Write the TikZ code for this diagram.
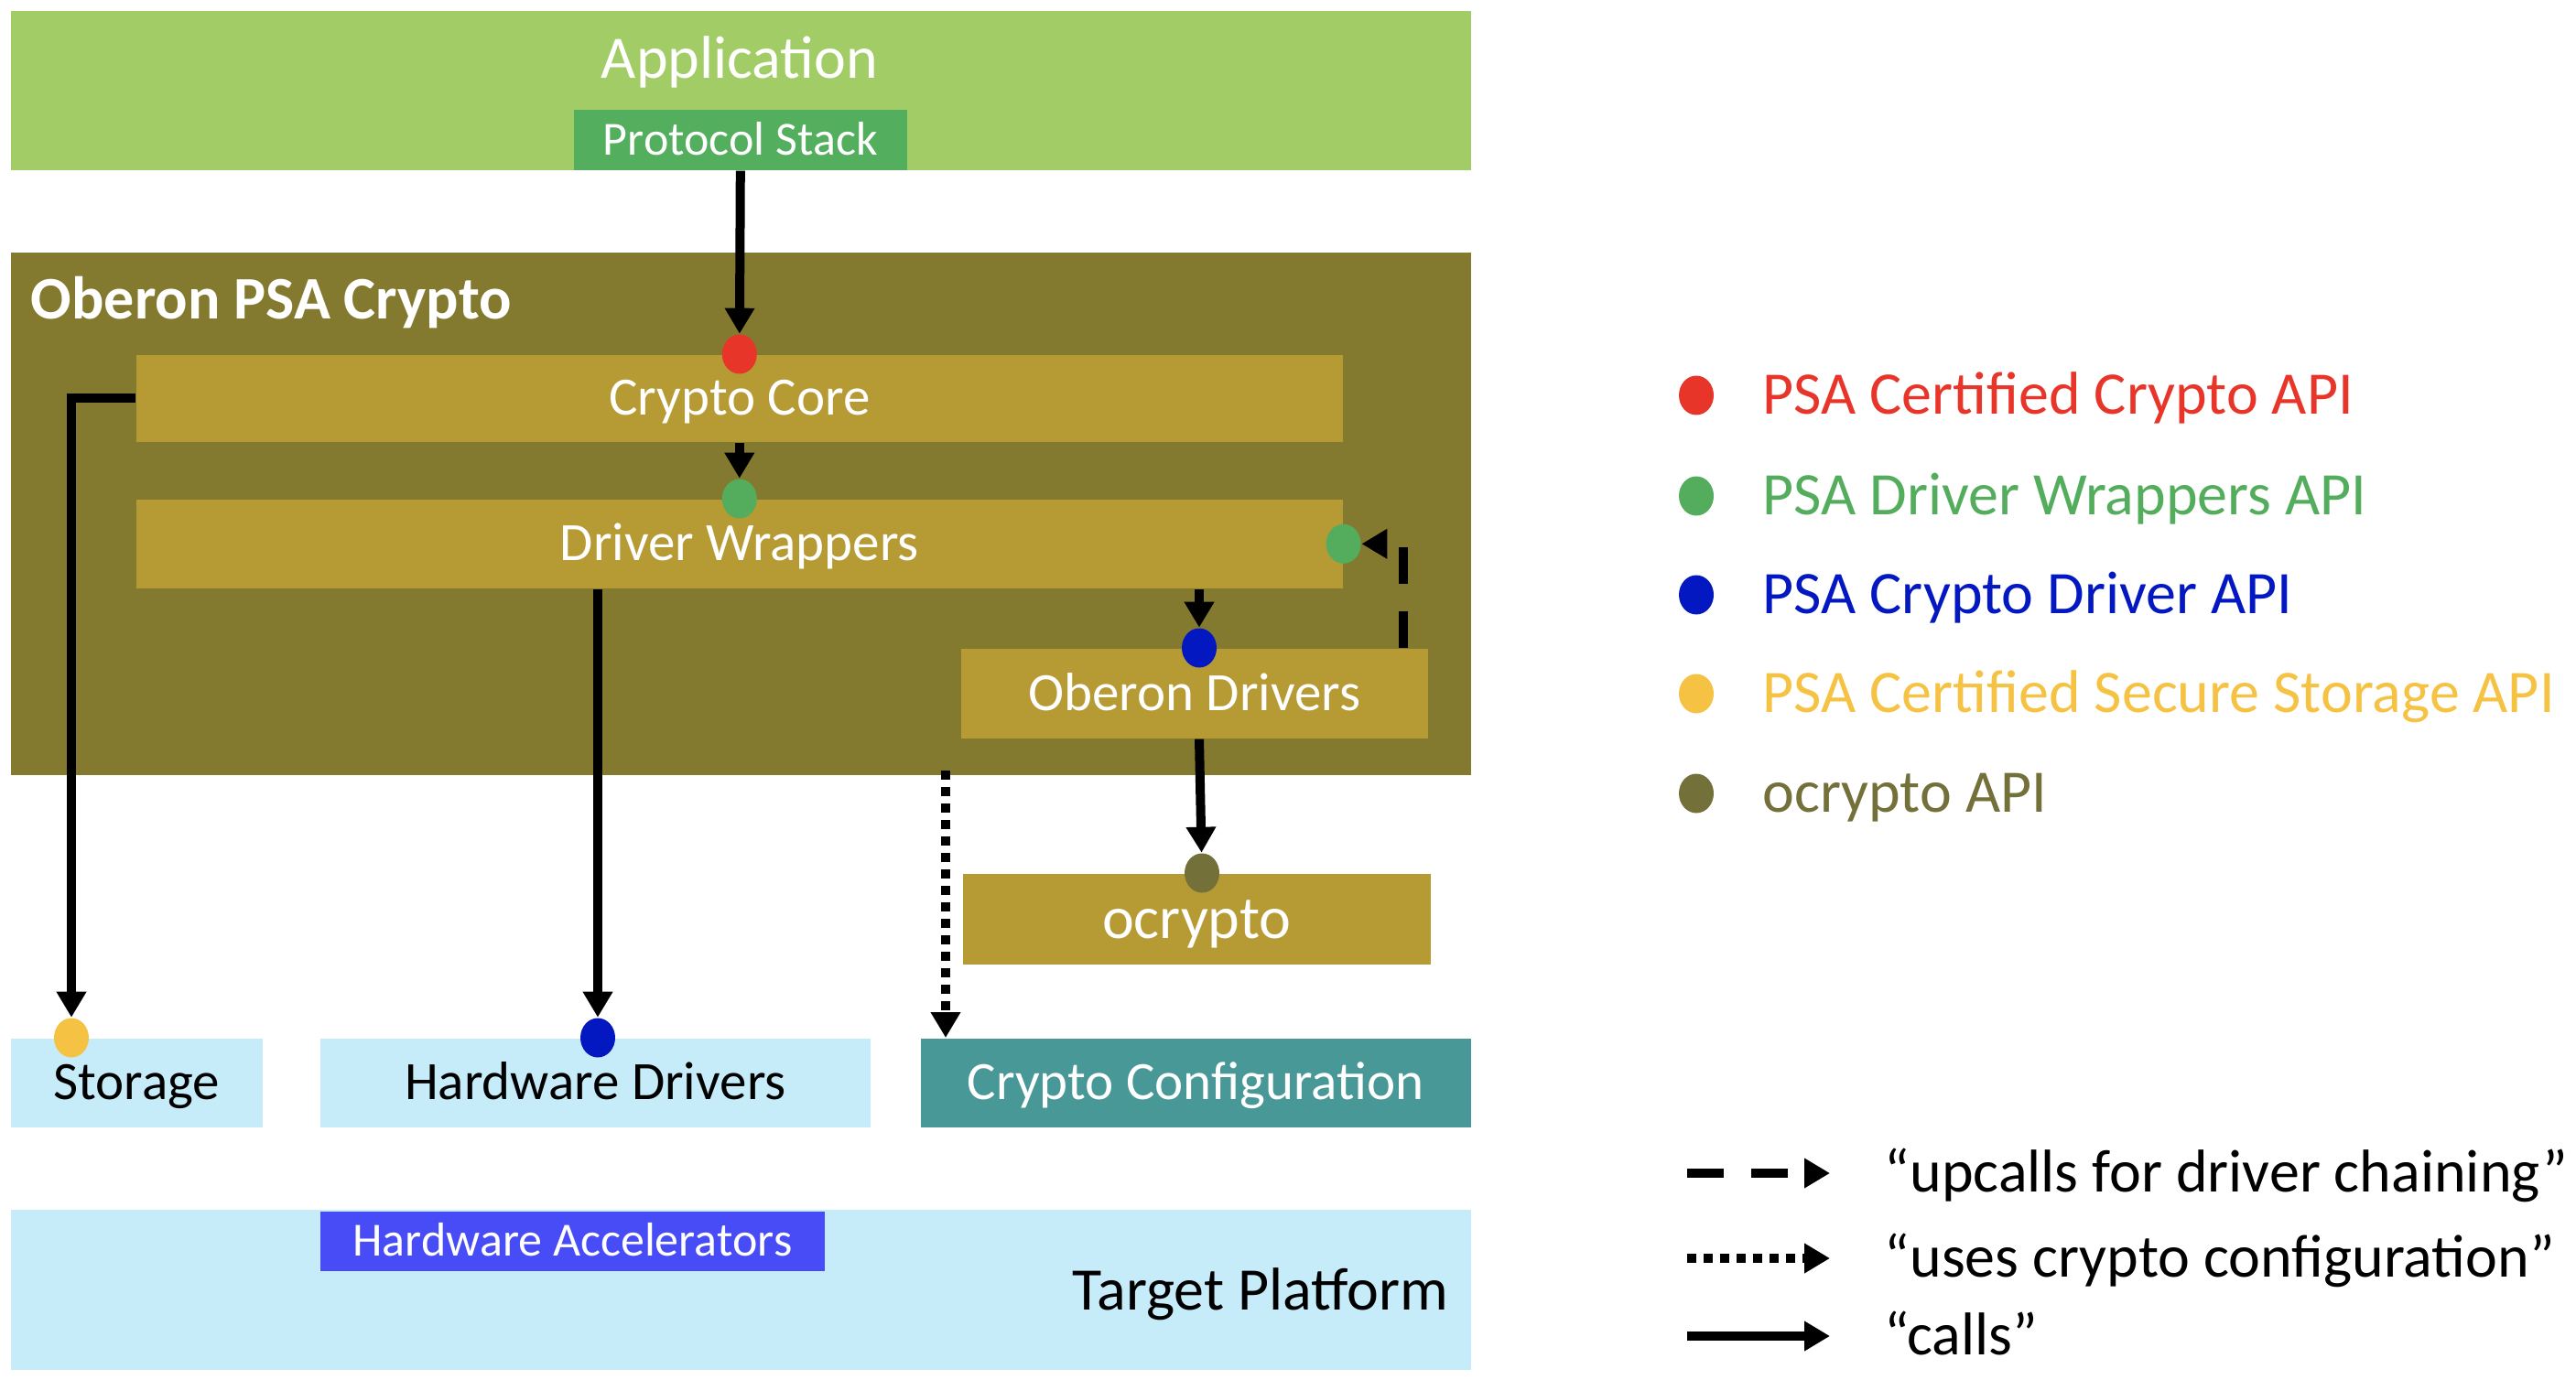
\documentclass[tikz,border=0pt]{standalone}
\usepackage{fontspec}
\setmainfont{Carlito}
\usetikzlibrary{positioning, arrows.meta, shapes.geometric}

\definecolor{appgreen}{RGB}{162,205,102}
\definecolor{stackgreen}{RGB}{83,174,94}
\definecolor{psaolive}{RGB}{132,122,47}
\definecolor{modgold}{RGB}{182,154,52}
\definecolor{platblue}{RGB}{198,235,249}
\definecolor{cfgteal}{RGB}{72,152,151}
\definecolor{accblue}{RGB}{71,76,246}
\definecolor{apired}{RGB}{232,53,42}
\definecolor{apigreen}{RGB}{83,173,93}
\definecolor{apiblue}{RGB}{3,24,193}
\definecolor{apiyellow}{RGB}{245,194,68}
\definecolor{apiolive}{RGB}{115,112,58}

\begin{document}
\begin{tikzpicture}[x=25pt, y=-25pt,
   big/.style={font=\fontsize{16.5}{20}\selectfont, text height=10.4pt, text depth=0pt, inner sep=0pt},
   mid/.style={font=\fontsize{14.75}{18}\selectfont, text height=9.3pt, text depth=0pt, inner sep=0pt},
   small/.style={font=\fontsize{13}{16}\selectfont, text height=8.2pt, text depth=0pt, inner sep=0pt},
   box/.style={rectangle, anchor=north west, fill=#1, text=white},
   api/.style={ellipse, fill=#1, minimum width=9.5pt, minimum height=10.75pt, inner sep=0pt},
   call/.style={line width=2.5pt, -{Triangle[length=7pt, width=7.75pt]}},
   upcall/.style={call, dash pattern=on 10pt off 7.5pt},
   uses/.style={call, dash pattern=on 2.5pt off 2pt},
   legend/.style={big, anchor=west}]
   \useasboundingbox (0,0) rectangle (28.14,15.08);

   \node[box=appgreen, minimum width=398.75pt, minimum height=43.5pt] (app) at (0.11,0.11) {};
   \node[big, text=white] (app_lbl) at (8.08,0.65) {Application};
   \node[box=stackgreen, small, minimum width=91pt, minimum height=16.5pt] (stack) at (6.26,1.19) {Protocol Stack};

   \node[box=psaolive, minimum width=398.75pt, minimum height=142.75pt] (psa) at (0.11,2.75) {};
   \node[big, font=\fontsize{16.5}{20}\selectfont\bfseries, text=white, anchor=west] (psa_lbl) at (0.33,3.28) {Oberon PSA Crypto};
   \node[box=modgold, mid, minimum width=329.5pt, minimum height=23.75pt] (core) at (1.48,3.87) {Crypto Core};
   \node[box=modgold, mid, minimum width=329.5pt, minimum height=24.25pt] (wrap) at (1.48,5.45) {Driver Wrappers};
   \node[box=modgold, mid, minimum width=127.5pt, minimum height=24.5pt] (odrv) at (10.49,7.08) {Oberon Drivers};
   \node[box=modgold, big, minimum width=127.75pt, minimum height=24.75pt] (ocr) at (10.51,9.54) {ocrypto};

   \node[box=platblue, mid, text=black, minimum width=68.75pt, minimum height=24.25pt] (stor) at (0.11,11.34) {Storage};
   \node[box=platblue, mid, text=black, minimum width=150.25pt, minimum height=24.25pt] (hwdrv) at (3.49,11.34) {Hardware Drivers};
   \node[box=cfgteal, mid, minimum width=150.25pt, minimum height=24.25pt] (cfg) at (10.05,11.34) {Crypto Configuration};

   \node[box=platblue, minimum width=398.75pt, minimum height=43.75pt] (plat) at (0.11,13.21) {};
   \node[big, anchor=east] (plat_lbl) at (15.83,14.11) {Target Platform};
   \node[box=accblue, small, minimum width=137.75pt, minimum height=16.25pt] (hwacc) at (3.49,13.23) {Hardware Accelerators};

   \node[api=apired] (core_api) at (core.north) {};
   \node[api=apigreen] (wrap_api) at (wrap.north) {};
   \node[api=apigreen] (chain_api) at (wrap.east) {};
   \node[api=apiblue] (odrv_api) at (13.10,7.08) {};
   \node[api=apiolive] (ocr_api) at (13.13,9.54) {};
   \node[api=apiyellow] (stor_api) at (0.78,11.34) {};
   \node[api=apiblue] (hwdrv_api) at (6.53,11.34) {};
   \coordinate (chain_from) at (15.33,7.08);
   \coordinate (cfg_from) at (10.33,8.42);

   \draw[call] (stack.south) -- (core_api);
   \draw[call] (core.south) -- (wrap_api);
   \draw[call] (core.west) -| (stor_api);
   \draw[call] (hwdrv_api |- wrap.south) -- (hwdrv_api);
   \draw[call] (odrv_api |- wrap.south) -- (odrv_api);
   \draw[call] (odrv_api |- odrv.south) -- (ocr_api);
   \draw[upcall] (chain_from) |- (chain_api);
   \draw[uses] (cfg_from) -- (cfg_from |- cfg.north);

   \node[api=apired] (leg_1) at (18.53,4.32) {};
   \node[api=apigreen] (leg_2) at (18.53,5.42) {};
   \node[api=apiblue] (leg_3) at (18.53,6.50) {};
   \node[api=apiyellow] (leg_4) at (18.53,7.58) {};
   \node[api=apiolive] (leg_5) at (18.53,8.67) {};
   \node[legend, text=apired] (leg_1_txt) [right=13pt of leg_1] {PSA Certified Crypto API};
   \node[legend, text=apigreen] (leg_2_txt) [right=13pt of leg_2] {PSA Driver Wrappers API};
   \node[legend, text=apiblue] (leg_3_txt) [right=13pt of leg_3] {PSA Crypto Driver API};
   \node[legend, text=apiyellow] (leg_4_txt) [right=13pt of leg_4] {PSA Certified Secure Storage API};
   \node[legend, text=apiolive] (leg_5_txt) [right=13pt of leg_5] {ocrypto API};

   \node[legend] (leg_up) at (20.58,12.82) {“upcalls for driver chaining”};
   \node[legend] (leg_uses) at (20.58,13.75) {“uses crypto configuration”};
   \node[legend] (leg_calls) at (20.58,14.60) {“calls”};
   \coordinate (leg_up_from) at (18.43,12.82);
   \coordinate (leg_uses_from) at (18.43,13.75);
   \coordinate (leg_calls_from) at (18.43,14.60);
   \draw[upcall] (leg_up_from) -- ([xshift=-14.75pt]leg_up.west);
   \draw[uses] (leg_uses_from) -- ([xshift=-14.75pt]leg_uses.west);
   \draw[call] (leg_calls_from) -- ([xshift=-14.75pt]leg_calls.west);
\end{tikzpicture}
\end{document}
